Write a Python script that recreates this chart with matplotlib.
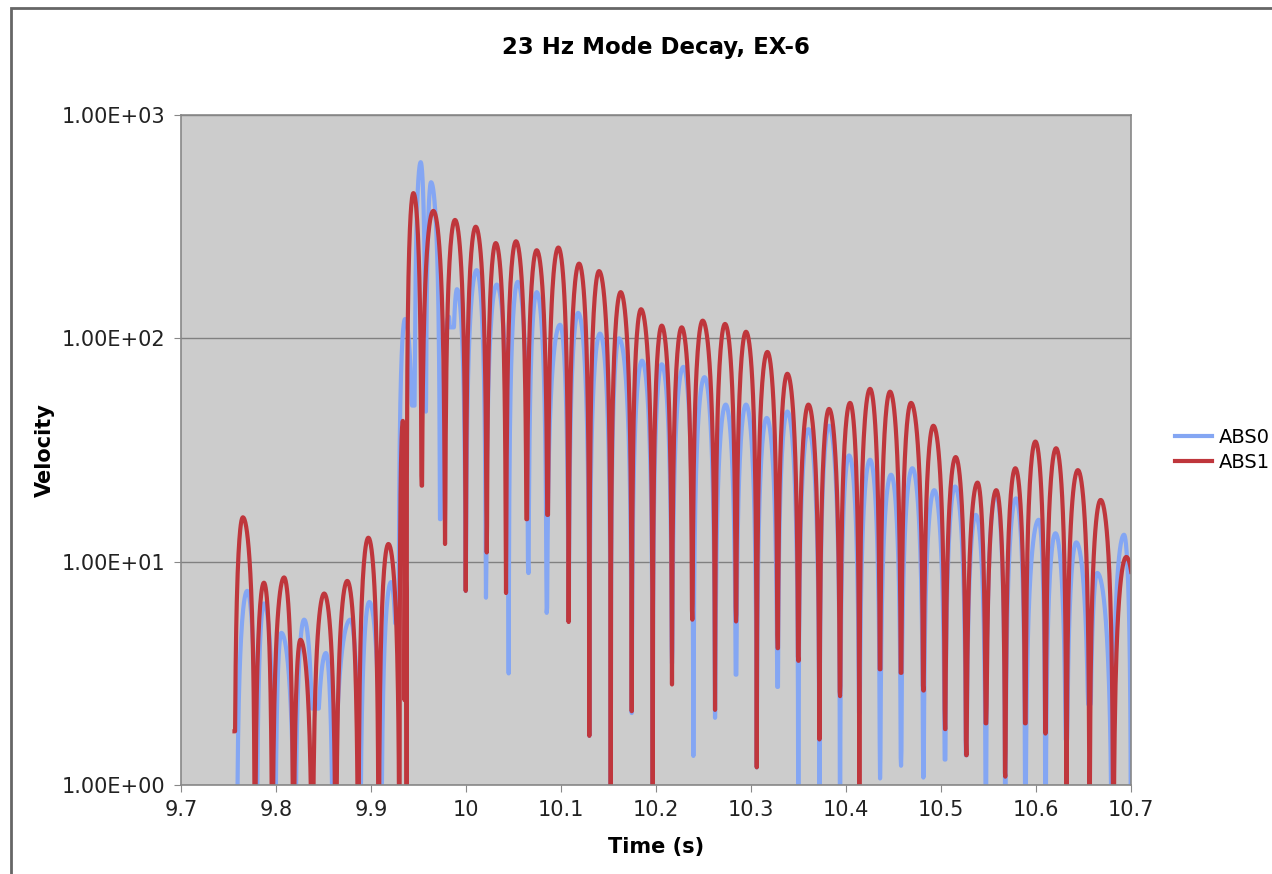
import matplotlib
matplotlib.use('Agg')
import matplotlib.pyplot as plt
from matplotlib.patches import Rectangle
from matplotlib.ticker import FixedLocator, FuncFormatter
import numpy as np

# values: time of each dip (near-zero crossing),
# velocity at the dip, and the peak of each arch between two dips
abs0_dip_t = [9.7585, 9.7796, 9.7990, 9.8200, 9.8405, 9.8602, 9.8884, 9.9106, 9.9290, 9.9456,
              9.9576, 9.9726, 9.9845, 9.9997, 10.0210, 10.0449, 10.0656, 10.0849, 10.1080, 10.1298,
              10.1523, 10.1744, 10.1965, 10.2168, 10.2393, 10.2621, 10.2842, 10.3060, 10.3280, 10.3498,
              10.3720, 10.3937, 10.4140, 10.4358, 10.4579, 10.4814, 10.5042, 10.5265, 10.5472, 10.5676,
              10.5887, 10.6099, 10.6320, 10.6563, 10.6800, 10.7000]
abs0_dip_v = [0.3, 0.3, 0.3, 0.3, 2.2, 0.3, 0.3, 0.3, 5.3, 50,
              47, 15.5, 112, 7.4, 6.9, 3.16, 8.9, 5.9, 5.4, 1.66,
              0.3, 2.1, 0.3, 3.5, 1.35, 2.0, 3.12, 1.2, 2.75, 0.3,
              0.3, 0.3, 2.1, 1.07, 1.22, 1.08, 1.3, 1.36, 0.3, 0.3,
              0.3, 0.3, 1.6, 2.3, 0.3, 0.3]
abs0_peak_t = [9.7697, 9.7873, 9.8056, 9.8296, 9.8525, 9.8782, 9.8982, 9.9211, 9.9358, 9.9523,
               9.9632, 9.9820, 9.9905, 10.0112, 10.0323, 10.0544, 10.0744, 10.0990, 10.1180, 10.1410,
               10.1610, 10.1853, 10.2060, 10.2288, 10.2510, 10.2733, 10.2947, 10.3165, 10.3382, 10.3604,
               10.3821, 10.4032, 10.4253, 10.4474, 10.4698, 10.4928, 10.5148, 10.5366, 10.5577, 10.5789,
               10.6028, 10.6204, 10.6423, 10.6644, 10.6926]
abs0_peak_v = [7.4, 6.5, 4.8, 5.5, 3.9, 5.5, 6.6, 8.1, 122, 615,
               500, 125, 166, 202, 174, 179, 161, 115, 130, 105,
               100, 79.4, 76.5, 74.5, 67, 50.5, 50.5, 44, 47, 39.2,
               40.6, 29.9, 28.6, 24.5, 26.2, 20.9, 21.7, 16.2, 20.2, 19.2,
               15.4, 13.4, 12.2, 8.9, 13.2]

abs1_dip_t = [9.7563, 9.7778, 9.7961, 9.8183, 9.8384, 9.8630, 9.8866, 9.9081, 9.9300, 9.9352,
              9.9375, 9.9533, 9.9779, 9.9997, 10.0218, 10.0421, 10.0639, 10.0859, 10.1080, 10.1298,
              10.1523, 10.1744, 10.1965, 10.2168, 10.2382, 10.2621, 10.2842, 10.3060, 10.3280, 10.3498,
              10.3720, 10.3937, 10.4140, 10.4358, 10.4579, 10.4814, 10.5042, 10.5265, 10.5472, 10.5676,
              10.5887, 10.6099, 10.6320, 10.6563, 10.6813, 10.7100]
abs1_dip_v = [1.74, 0.3, 0.3, 0.3, 0.3, 0.3, 0.3, 0.3, 0.3, 2.4,
              0.3, 21.9, 12.0, 7.4, 11.0, 7.24, 15.5, 16.2, 5.37, 1.66,
              0.3, 2.14, 0.3, 2.82, 5.5, 2.17, 5.4, 1.2, 4.1, 3.6,
              1.6, 2.5, 0.3, 3.3, 3.18, 2.65, 1.78, 1.36, 1.89, 1.09,
              1.89, 1.7, 0.3, 0.3, 0.3, 0.3]
abs1_peak_t = [9.7651, 9.7873, 9.8085, 9.8257, 9.8507, 9.8750, 9.8972, 9.9183, 9.9335, 9.9363,
               9.9446, 9.9656, 9.9884, 10.0102, 10.0313, 10.0526, 10.0744, 10.0972, 10.1190, 10.1400,
               10.1628, 10.1842, 10.2060, 10.2270, 10.2491, 10.2726, 10.2947, 10.3172, 10.3382, 10.3604,
               10.3821, 10.4042, 10.4253, 10.4463, 10.4684, 10.4919, 10.5154, 10.5384, 10.5581, 10.5782,
               10.5993, 10.6211, 10.6440, 10.6680, 10.6950]
abs1_peak_v = [15.8, 8.05, 8.5, 4.47, 7.2, 8.2, 12.8, 12.0, 42.7, 10,
               447, 372, 339, 316, 267, 272, 248, 255, 216, 200,
               161, 135, 114, 112, 120, 116, 107, 86.9, 69.4, 50.5,
               48.3, 51.4, 59.4, 57.7, 51.4, 40.6, 29.4, 22.6, 20.9, 26.2,
               34.5, 32.2, 25.7, 18.9, 10.5]

x_ticks = [9.7, 9.8, 9.9, 10.0, 10.1, 10.2, 10.3, 10.4, 10.5, 10.6, 10.7]
y_ticks = [1, 10, 100, 1000]


def arches(dip_t, dip_v, peak_t, peak_v, n=30):
    # rectified-sine arch between each pair of dips, floored at the dip value
    ts, vs = [], []
    for i in range(len(peak_t)):
        d0, d1, tp, p = dip_t[i], dip_t[i + 1], peak_t[i], peak_v[i]
        u = np.linspace(0, 1, n)
        tl = d0 + (tp - d0) * u
        vl = np.maximum(p * np.sin(np.pi / 2 * u), dip_v[i])
        tr = tp + (d1 - tp) * u[1:]
        vr = np.maximum(p * np.cos(np.pi / 2 * u[1:]), dip_v[i + 1])
        ts.extend(tl); ts.extend(tr)
        vs.extend(vl); vs.extend(vr)
    return np.array(ts), np.array(vs)


fig = plt.figure(figsize=(12.72, 8.74), dpi=100)
ax = fig.add_axes([0.1423, 0.1018, 0.7469, 0.7666])
ax.set_facecolor('#cccccc')

t0, v0 = arches(abs0_dip_t, abs0_dip_v, abs0_peak_t, abs0_peak_v)
t1, v1 = arches(abs1_dip_t, abs1_dip_v, abs1_peak_t, abs1_peak_v)
ax.plot(t0, v0, color='#84a6f3', lw=3, label='ABS0', solid_joinstyle='round')
ax.plot(t1, v1, color='#bf363c', lw=3, label='ABS1', solid_joinstyle='round')

ax.set_yscale('log')
ax.set_xlim(9.7, 10.7)
ax.set_ylim(1, 1000)
ax.xaxis.set_major_locator(FixedLocator(x_ticks))
ax.xaxis.set_major_formatter(FuncFormatter(lambda v, p: f'{v:g}'))
ax.yaxis.set_major_locator(FixedLocator(y_ticks))
ax.yaxis.set_minor_locator(FixedLocator([]))
ax.yaxis.set_major_formatter(FuncFormatter(lambda v, p: f'{v:.2E}'))
ax.grid(axis='y', color='#808080', lw=1)
ax.set_axisbelow(True)
for s in ax.spines.values():
    s.set_color('#888888')
    s.set_linewidth(1.2)
ax.tick_params(axis='both', direction='out', length=5, color='#888888',
               labelsize=15, labelcolor='#222222', pad=6)

ax.set_title('23 Hz Mode Decay, EX-6', fontsize=16.5, fontweight='bold', pad=44)
ax.set_xlabel('Time (s)', fontsize=15, fontweight='bold', labelpad=12)
ax.set_ylabel('Velocity', fontsize=15, fontweight='bold', labelpad=5)

ax.legend(loc='center left', bbox_to_anchor=(1.028, 0.5), frameon=False,
          fontsize=14, handlelength=1.9, handletextpad=0.35, labelspacing=0.3)

fig.patches.append(Rectangle((0.0087, -0.1), 1.2, 1.0908, transform=fig.transFigure,
                             fill=False, edgecolor='#666666', lw=2))

fig.savefig('out.png', dpi=100)
